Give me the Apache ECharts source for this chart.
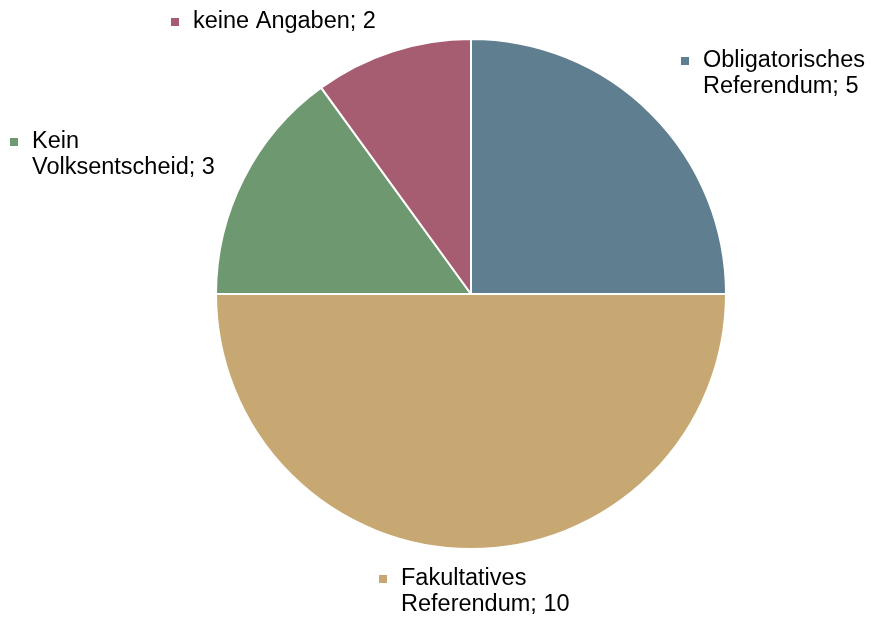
<!DOCTYPE html>
<html>
<head>
<meta charset="utf-8">
<script src="https://cdn.jsdelivr.net/npm/echarts@6/dist/echarts.min.js"></script>
<style>
  html, body { margin: 0; padding: 0; background: #fff; }
  #chart { width: 871px; height: 617px; }
</style>
</head>
<body>
<div id="chart"></div>
<script>
// Categories (label text, with the line break used on the chart) and counts
const categories = ['Obligatorisches\nReferendum', 'Fakultatives\nReferendum', 'Kein\nVolksentscheid', 'keine Angaben'];
const counts = [5, 10, 3, 2];
const colors = ['#5F7E8F', '#C8A872', '#6E9870', '#A65D72'];

// Top-left anchor of each label block (marker + text)
const labelAnchors = [
  { x: 681, y: 48 },
  { x: 379, y: 566 },
  { x: 10, y: 129 },
  { x: 171, y: 9 }
];

const chart = echarts.init(document.getElementById('chart'), null, { renderer: 'canvas' });

const data = categories.map((name, i) => ({
  name: name,
  value: counts[i],
  itemStyle: { color: colors[i] },
  label: {
    rich: {
      m: { width: 8, height: 8, backgroundColor: colors[i] },
      s: { width: 8, height: 8 },
      t: { fontSize: 23.5, lineHeight: 26, color: '#000', fontFamily: 'Liberation Sans, Arial, sans-serif', padding: [0, 0, 0, 14] }
    }
  }
}));

chart.setOption({
  animation: false,
  backgroundColor: '#fff',
  series: [{
    type: 'pie',
    center: [471, 294],
    radius: [0, 255],
    startAngle: 90,
    clockwise: true,
    data: data,
    itemStyle: { borderColor: '#fff', borderWidth: 2 },
    label: {
      show: true,
      position: 'outside',
      overflow: 'none',
      formatter: function (p) {
        const lines = p.name.split('\n');
        const last = lines.length - 1;
        return lines.map(function (line, k) {
          const head = k === 0 ? '{m|}' : '{s|}';
          const text = k === last ? line + '; ' + p.value : line;
          return head + '{t|' + text + '}';
        }).join('\n');
      }
    },
    labelLine: { show: false },
    labelLayout: function (params) {
      const a = labelAnchors[params.dataIndex];
      return { x: a.x, y: a.y, align: 'left', verticalAlign: 'top' };
    }
  }]
});
</script>
</body>
</html>
